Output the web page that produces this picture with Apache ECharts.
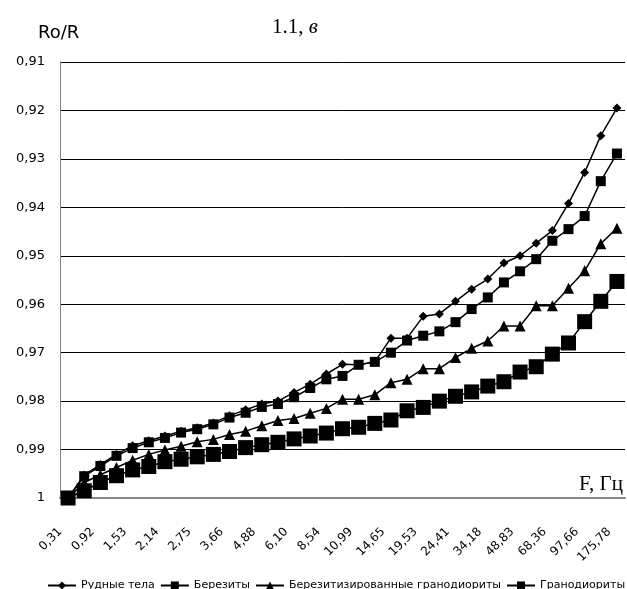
<!DOCTYPE html>
<html>
<head>
<meta charset="utf-8">
<script src="https://cdn.jsdelivr.net/npm/echarts@6/dist/echarts.min.js"></script>
<style>
  html, body { margin: 0; padding: 0; background: #fff; }
  #chart { width: 627px; height: 589px; }
</style>
</head>
<body>
<div id="chart"></div>
<script>
// Frequency categories (Hz); every second one is labelled on the axis
const categories = ['0,31','0,61','0,92','1,22','1,53','1,83','2,14','2,44','2,75','3,05',
  '3,66','4,27','4,88','5,49','6,10','7,32','8,54','9,77','10,99','12,21',
  '14,65','17,09','19,53','21,97','24,41','29,30','34,18','41,50','48,83','58,59',
  '68,36','78,13','97,66','136,72','175,78'];

// Ro/R per rock type
const oreBodies = [1.0, 0.9953, 0.9931, 0.9910, 0.9892, 0.9882, 0.9872, 0.9862, 0.9855, 0.9845,
  0.9830, 0.9818, 0.9806, 0.9800, 0.9782, 0.9765, 0.9744, 0.9724, 0.9725, 0.9719,
  0.9670, 0.9670, 0.9625, 0.9620, 0.9594, 0.9569, 0.9548, 0.9515, 0.9500, 0.9474,
  0.9448, 0.9392, 0.9328, 0.9252, 0.9195];

const beresites = [1.0, 0.9955, 0.9934, 0.9913, 0.9897, 0.9885, 0.9876, 0.9865, 0.9858, 0.9848,
  0.9834, 0.9824, 0.9812, 0.9806, 0.9792, 0.9773, 0.9755, 0.9748, 0.9725, 0.9719,
  0.9700, 0.9675, 0.9665, 0.9656, 0.9637, 0.9610, 0.9586, 0.9555, 0.9532, 0.9507,
  0.9469, 0.9445, 0.9418, 0.9346, 0.9289];

const beresitizedGranodiorites = [1.0, 0.9968, 0.9952, 0.9937, 0.9922, 0.9910, 0.9901, 0.9893, 0.9884, 0.9879,
  0.9869, 0.9862, 0.9851, 0.9840, 0.9836, 0.9825, 0.9815, 0.9796, 0.9796, 0.9787,
  0.9762, 0.9755, 0.9733, 0.9733, 0.9710, 0.9691, 0.9676, 0.9645, 0.9645, 0.9603,
  0.9603, 0.9567, 0.9531, 0.9475, 0.9443];

const granodiorites = [1.0, 0.9985, 0.9968, 0.9954, 0.9942, 0.9935, 0.9925, 0.9920, 0.9915, 0.9910,
  0.9904, 0.9896, 0.9890, 0.9885, 0.9878, 0.9872, 0.9866, 0.9857, 0.9854, 0.9846,
  0.9839, 0.9820, 0.9813, 0.9800, 0.9790, 0.9781, 0.9769, 0.9760, 0.9740, 0.9729,
  0.9703, 0.9680, 0.9636, 0.9594, 0.9553];

const seriesNames = ['Рудные тела', 'Березиты', 'Березитизированные гранодиориты', 'Гранодиориты'];

const sansFont = 'Verdana, "DejaVu Sans", sans-serif';
const serifFont = '"Liberation Serif", "Times New Roman", serif';

function lineSeries(name, data, symbol, size) {
  return {
    name: name,
    type: 'line',
    data: data,
    symbol: symbol,
    symbolSize: size,
    showAllSymbol: true,
    lineStyle: { color: '#000', width: 1.5 },
    itemStyle: { color: '#000', borderWidth: 0 },
    emphasis: { disabled: true },
    animation: false
  };
}

const chart = echarts.init(document.getElementById('chart'), null, { renderer: 'canvas' });

chart.setOption({
  animation: false,
  backgroundColor: '#fff',
  title: {
    text: '{a|1.1, }{b|в}',
    left: 267,
    top: 12,
    textStyle: {
      fontWeight: 'normal',
      rich: {
        a: { fontFamily: serifFont, fontSize: 21, fontWeight: 'normal', color: '#000' },
        b: { fontFamily: serifFont, fontSize: 21, fontWeight: 'normal', fontStyle: 'italic', color: '#000' }
      }
    }
  },
  graphic: [
    {
      type: 'text', left: 38, top: 24,
      style: { text: 'Ro/R', font: '18px ' + sansFont, fill: '#000' }
    },
    {
      type: 'text', right: 4, top: 474,
      style: { text: 'F, Гц', font: '21px ' + serifFont, fill: '#000' }
    }
  ],
  grid: { left: 60, right: 2, top: 62, bottom: 91, containLabel: false },
  legend: {
    data: seriesNames,
    left: 42,
    top: 575,
    width: 585,
    itemWidth: 28,
    itemHeight: 10,
    itemGap: 5,
    textStyle: { fontFamily: sansFont, fontSize: 11, color: '#000' }
  },
  xAxis: {
    type: 'category',
    data: categories,
    boundaryGap: true,
    axisLine: { onZero: false, lineStyle: { color: '#868686', width: 2 } },
    axisTick: { show: false },
    axisLabel: {
      interval: 1,
      rotate: 45,
      margin: 24,
      padding: [0, 11, 0, 0],
      fontFamily: sansFont,
      fontSize: 12,
      color: '#000'
    },
    splitLine: { show: false }
  },
  yAxis: {
    type: 'value',
    inverse: true,
    min: 0.91,
    max: 1,
    interval: 0.01,
    axisLine: { show: true, lineStyle: { color: '#868686', width: 1 } },
    axisTick: { show: false },
    axisLabel: {
      margin: 15,
      fontFamily: sansFont,
      fontSize: 13,
      color: '#000',
      formatter: function (v) {
        return String(parseFloat(v.toFixed(2))).replace('.', ',');
      }
    },
    splitLine: { show: true, lineStyle: { color: '#000', width: 1 } }
  },
  series: [
    lineSeries(seriesNames[0], oreBodies, 'diamond', 9),
    lineSeries(seriesNames[1], beresites, 'rect', 10),
    lineSeries(seriesNames[2], beresitizedGranodiorites, 'triangle', 11),
    lineSeries(seriesNames[3], granodiorites, 'rect', 15)
  ]
});
</script>
</body>
</html>
